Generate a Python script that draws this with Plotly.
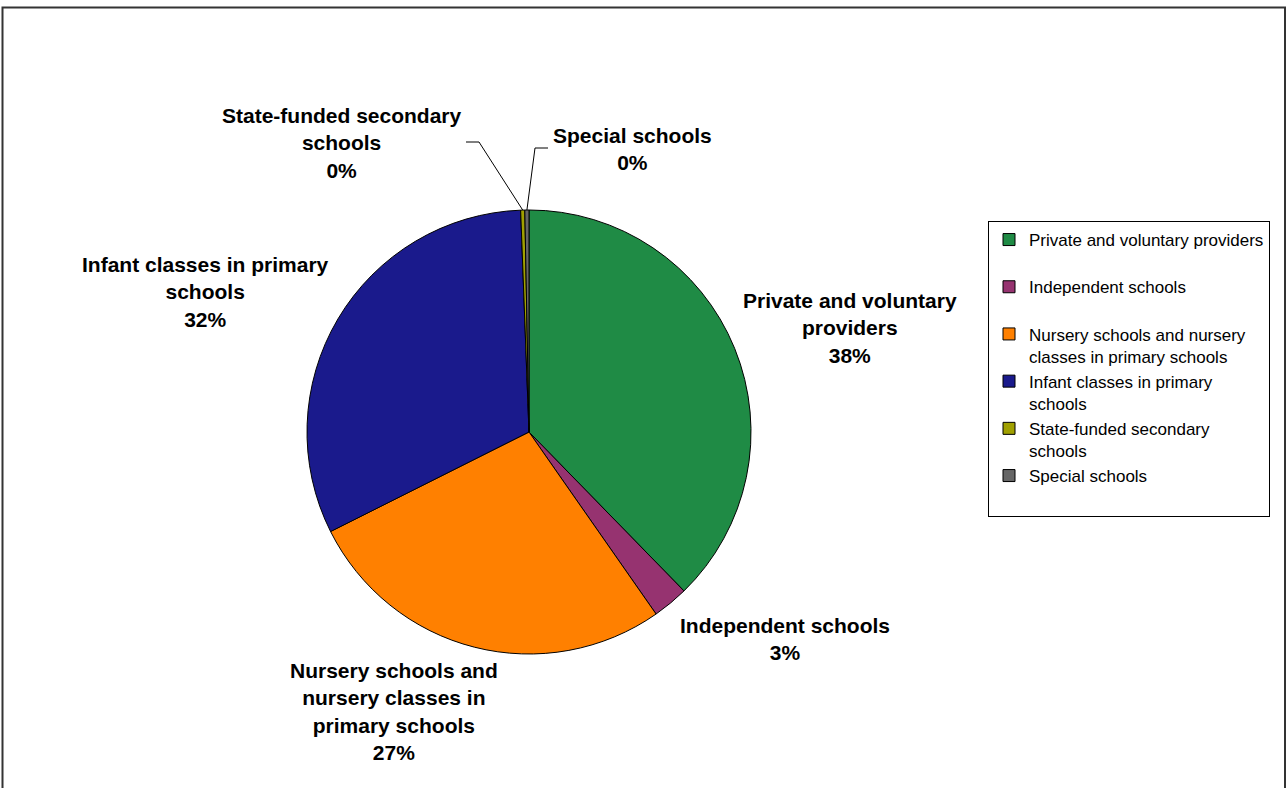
import math
import plotly.graph_objects as go

# ---- data ----
categories = [
    "Private and voluntary providers",
    "Independent schools",
    "Nursery schools and nursery classes in primary schools",
    "Infant classes in primary schools",
    "State-funded secondary schools",
    "Special schools",
]
values = [37.7, 2.6, 27.3, 31.8, 0.3, 0.3]
legend_labels = [
    "Private and voluntary providers<br> ",
    "Independent schools<br> ",
    "Nursery schools and nursery<br>classes in primary schools",
    "Infant classes in primary<br>schools",
    "State-funded secondary<br>schools",
    "Special schools<br> ",
]
slice_label_text = [
    "Private and voluntary<br>providers",
    "Independent schools",
    "Nursery schools and<br>nursery classes in<br>primary schools",
    "Infant classes in primary<br>schools",
    "State-funded secondary<br>schools",
    "Special schools",
]
colors = ["#1f8b45", "#963370", "#ff8000", "#1a1a8c", "#a0a000", "#666666"]

# ---- layout constants (pixels) ----
W, H = 1287, 788
CX, CY, R = 529, 432, 222
# label block centres (px) and leader elbows for the tiny slices
label_pos = [(850, 328), (785, 638.5), (394, 711), (205, 292), (342, 143), (632, 148.5)]
leader = {4: [(479, 142), (466, 142)], 5: [(535, 148), (548, 148)]}


def px(x):
    return x / W


def py(y):
    return 1 - y / H


total = sum(values)
pct = [f"{round(v / total * 100)}%" for v in values]

fig = go.Figure(
    go.Pie(
        labels=legend_labels,
        values=values,
        sort=False,
        direction="clockwise",
        rotation=0,
        textinfo="none",
        hoverinfo="label+percent",
        marker=dict(colors=colors, line=dict(color="#000000", width=1)),
        domain=dict(x=[px(CX - R), px(CX + R)], y=[py(CY + R), py(CY - R)]),
    )
)

annotations = []
shapes = []
cum = 0.0
for i, v in enumerate(values):
    mid = (cum + v / 2) / total * 2 * math.pi
    cum += v
    hx = CX + R * math.sin(mid)
    hy = CY - R * math.cos(mid)
    lx, ly = label_pos[i]
    annotations.append(
        dict(
            x=px(lx), y=py(ly), xref="paper", yref="paper",
            text=f"<b>{slice_label_text[i]}<br>{pct[i]}</b>",
            showarrow=False, xanchor="center", yanchor="middle", align="center",
            font=dict(family="Liberation Sans, Arial, sans-serif", size=21, color="#000000"),
        )
    )
    if i in leader:
        pts = [(hx, hy)] + leader[i]
        path = "M " + " L ".join(f"{px(a)},{py(b)}" for a, b in pts)
        shapes.append(dict(type="path", xref="paper", yref="paper", path=path,
                           line=dict(color="#000000", width=1)))

# outer chart border
shapes.append(dict(type="rect", xref="paper", yref="paper",
                   x0=px(2.5), x1=px(1285), y0=py(800), y1=py(7.5),
                   line=dict(color="#333333", width=2)))

fig.update_layout(
    width=W, height=H,
    margin=dict(l=0, r=0, t=0, b=0),
    paper_bgcolor="#ffffff",
    plot_bgcolor="#ffffff",
    font=dict(family="Liberation Sans, Arial, sans-serif", color="#000000"),
    showlegend=True,
    legend=dict(
        x=px(988), y=py(221), xanchor="left", yanchor="top",
        bordercolor="#000000", borderwidth=1,
        font=dict(size=17, color="#000000"),
        valign="top", itemwidth=30, tracegroupgap=0,
    ),
    annotations=annotations,
    shapes=shapes,
)

fig.write_html("out.html")
